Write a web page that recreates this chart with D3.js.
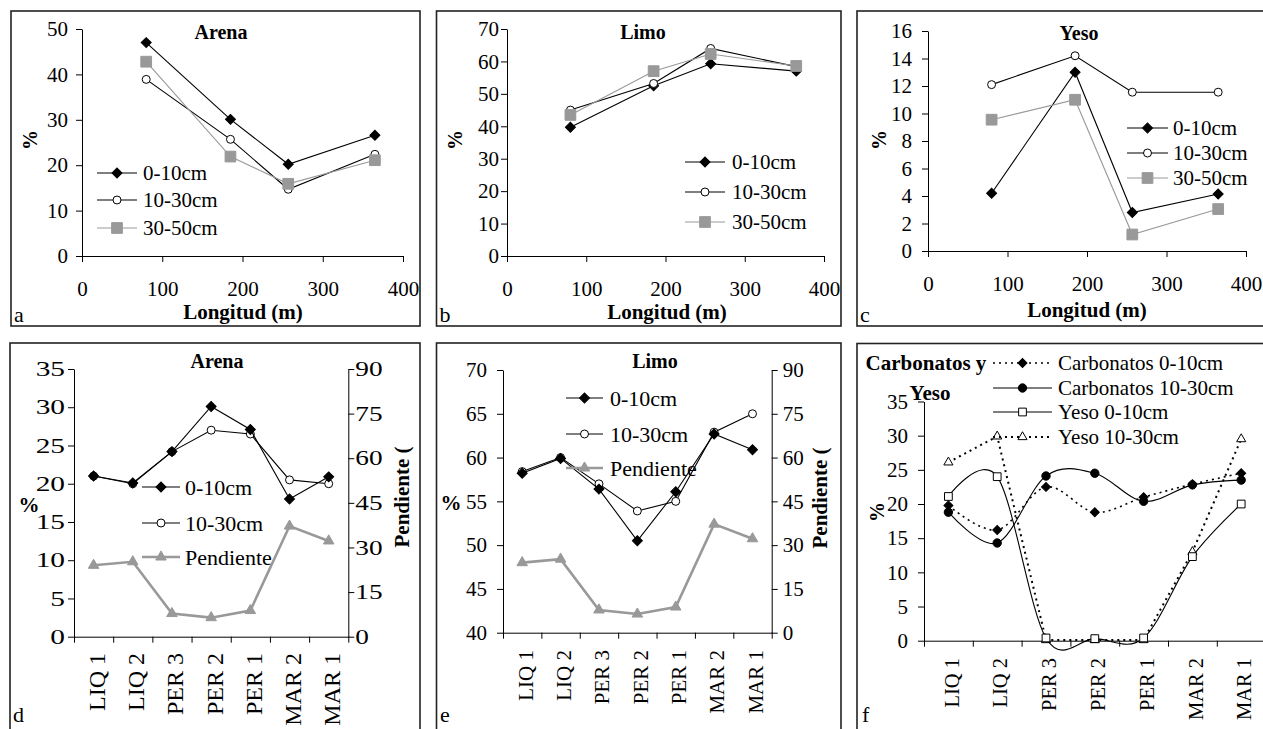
<!DOCTYPE html>
<html><head><meta charset="utf-8">
<script src="https://cdn.jsdelivr.net/npm/d3@7"></script>
<style>
body{margin:0;background:#fff}
svg{display:block}
text{font-family:"Liberation Serif","DejaVu Serif",serif;fill:#000}
</style></head><body>
<svg id="c" width="1263" height="729"></svg>
<script>
// ---------------- DATA ----------------
const longitud = [80, 185, 257, 365];
const longTicks = [0, 100, 200, 300, 400];
const arenaL_0_10 = [47.0, 30.1, 20.2, 26.6];
const arenaL_10_30 = [38.9, 25.7, 14.7, 22.4];
const arenaL_30_50 = [42.8, 21.9, 15.9, 21.1];
const limoL_0_10 = [39.7, 52.5, 59.3, 57.0];
const limoL_10_30 = [45.0, 53.2, 64.0, 58.4];
const limoL_30_50 = [43.5, 57.0, 62.3, 58.6];
const yesoL_0_10 = [4.2, 13.0, 2.8, 4.15];
const yesoL_10_30 = [12.1, 14.2, 11.55, 11.55];
const yesoL_30_50 = [9.55, 11.0, 1.2, 3.05];

const sites = ["LIQ 1", "LIQ 2", "PER 3", "PER 2", "PER 1", "MAR 2", "MAR 1"];
const arenaS_0_10 = [21.0, 20.1, 24.2, 30.1, 27.1, 18.0, 20.9];
const arenaS_10_30 = [21.0, 20.0, 24.2, 27.0, 26.5, 20.5, 20.0];
const limoS_0_10 = [58.2, 59.9, 56.4, 50.5, 56.1, 62.7, 60.9];
const limoS_10_30 = [58.4, 60.0, 57.0, 53.9, 55.0, 62.9, 65.0];
const pendiente = [24.0, 25.2, 7.8, 6.4, 8.8, 37.2, 32.2];
const carb_0_10 = [19.8, 16.2, 22.5, 18.8, 21.0, 22.9, 24.5];
const carb_10_30 = [18.8, 14.3, 24.1, 24.5, 20.4, 22.8, 23.5];
const yeso_0_10 = [21.1, 24.0, 0.4, 0.3, 0.4, 12.3, 20.0];
const yeso_10_30 = [26.1, 29.9, 0.1, 0.1, 0.1, 13.0, 29.5];
const slopeTicks = [0, 15, 30, 45, 60, 75, 90];

// ---------------- HELPERS ----------------
const svg = d3.select("#c");
const GRAY = "#999";
const FF = "'Liberation Serif', 'DejaVu Serif', serif";

function frame(x0, y0, x1, y1) {
  svg.append("rect").attr("x", x0).attr("y", y0).attr("width", x1 - x0).attr("height", y1 - y0)
    .attr("fill", "none").attr("stroke", "#222").attr("stroke-width", 1.6);
}
function text(str, x, y, o = {}) {
  const t = svg.append("text").attr("x", x).attr("y", y).text(str)
    .style("font-family", FF)
    .attr("font-size", o.size || 21).attr("text-anchor", o.anchor || "middle")
    .attr("font-weight", o.bold ? "bold" : "normal");
  if (o.rotate) t.attr("transform", `rotate(${o.rotate},${x},${y})`);
  if (o.dy) t.attr("dy", o.dy);
  return t;
}
function styleAxis(g, size, sx) {
  g.attr("font-size", size);
  g.selectAll("text").style("font-family", FF);
  if (sx) {
    g.selectAll("text").each(function () {
      const t = d3.select(this);
      t.attr("x", +t.attr("x") / sx).attr("transform", `scale(${sx},1)`);
    });
  }
  g.selectAll("line,path").attr("stroke", "#000");
  return g;
}
const symTypes = { diamond: d3.symbolSquare, circle: d3.symbolCircle, square: d3.symbolSquare, triangle: d3.symbolTriangle };
function marker(g, st, x, y) {
  g.append("path")
    .attr("d", d3.symbol().type(symTypes[st.m]).size(st.ms)())
    .attr("transform", `translate(${x},${y})` + (st.m === "diamond" ? " rotate(45)" : ""))
    .attr("fill", st.mf).attr("stroke", st.mstroke).attr("stroke-width", 1);
}
function series(xs, ys, st) {
  const pts = xs.map((x, i) => [x, ys[i]]);
  const line = d3.line().curve(st.curve || d3.curveLinear);
  svg.append("path").attr("d", line(pts)).attr("fill", "none")
    .attr("stroke", st.c).attr("stroke-width", st.w).attr("stroke-dasharray", st.dash || null);
  const g = svg.append("g");
  pts.forEach(p => marker(g, st, p[0], p[1]));
}
function legend(items, x0, x1, xt, ys, size) {
  items.forEach((it, i) => {
    const y = ys[i];
    svg.append("line").attr("x1", x0).attr("x2", x1).attr("y1", y).attr("y2", y)
      .attr("stroke", it.st.c).attr("stroke-width", it.st.w).attr("stroke-dasharray", it.st.dash || null);
    marker(svg, it.st, (x0 + x1) / 2, y);
    text(it.label, xt, y, { anchor: "start", size: size, dy: "0.35em" });
  });
}

const S0 = { c: "#000", w: 1.1, m: "diamond", ms: 50, mf: "#000", mstroke: "#000" };
const S1 = { c: "#000", w: 1.1, m: "circle", ms: 50, mf: "#fff", mstroke: "#000" };
const S2 = { c: GRAY, w: 1.1, m: "square", ms: 115, mf: GRAY, mstroke: GRAY };
const SP = { c: GRAY, w: 2.6, m: "triangle", ms: 48, mf: GRAY, mstroke: GRAY };

// ---------------- TOP ROW (Longitud) ----------------
function topPanel(cfg) {
  frame(...cfg.frame);
  const x = d3.scaleLinear([0, 400], [cfg.x0, cfg.x1]);
  const y = d3.scaleLinear([0, cfg.ymax], [cfg.yb, cfg.yt]);
  styleAxis(svg.append("g").attr("transform", `translate(${cfg.x0},0)`)
    .call(d3.axisLeft(y).tickValues(d3.range(0, cfg.ymax + 0.001, cfg.ystep)).tickSize(6).tickSizeOuter(0).tickPadding(cfg.ypad).tickFormat(d3.format("d"))), 21);
  styleAxis(svg.append("g").attr("transform", `translate(0,${cfg.yb})`)
    .call(d3.axisBottom(x).tickValues(longTicks).tickSize(6).tickSizeOuter(0).tickPadding(19).tickFormat(d3.format("d"))), 21);
  const xs = longitud.map(x);
  series(xs, cfg.s[0].map(y), S0);
  series(xs, cfg.s[1].map(y), S1);
  series(xs, cfg.s[2].map(y), S2);
  text(cfg.title, cfg.tx, cfg.ty, { bold: true, size: 20 });
  text("%", cfg.px, 140, { bold: true, size: 20, rotate: -90, dy: "0.35em" });
  text("Longitud (m)", cfg.lx, cfg.ly, { bold: true, size: 21 });
  text(cfg.letter, cfg.frame[0] + 3, 322, { anchor: "start", size: 22 });
  legend([{ label: "0-10cm", st: S0 }, { label: "10-30cm", st: S1 }, { label: "30-50cm", st: S2 }],
    cfg.lg[0], cfg.lg[1], cfg.lg[2], cfg.lg[3], 21);
}

topPanel({ frame: [11, 11, 420, 326], x0: 82, x1: 403, yb: 256, yt: 29, ymax: 50, ystep: 10, ypad: 8,
  s: [arenaL_0_10, arenaL_10_30, arenaL_30_50], title: "Arena", tx: 221, ty: 39, px: 30, lx: 243, ly: 319, letter: "a",
  lg: [97, 137, 143, [173, 200, 228]] });
topPanel({ frame: [436.5, 11, 841, 326], x0: 507, x1: 824, yb: 256, yt: 29, ymax: 70, ystep: 10, ypad: 2,
  s: [limoL_0_10, limoL_10_30, limoL_30_50], title: "Limo", tx: 643, ty: 39, px: 455, lx: 667, ly: 319, letter: "b",
  lg: [685, 725, 732, [162, 192, 222]] });
topPanel({ frame: [857, 11, 1275, 326], x0: 928, x1: 1246, yb: 251, yt: 31, ymax: 16, ystep: 2, ypad: 10,
  s: [yesoL_0_10, yesoL_10_30, yesoL_30_50], title: "Yeso", tx: 1079, ty: 40, px: 879, lx: 1087, ly: 317, letter: "c",
  lg: [1127, 1168, 1173, [128, 153, 178]] });

// ---------------- BOTTOM ROW (sites) ----------------
function catAxis(x0, x1, yb, labelTop, labSize) {
  const band = d3.scaleBand(sites, [x0, x1]);
  const edge = d3.scaleLinear([0, sites.length], [x0, x1]);
  styleAxis(svg.append("g").attr("transform", `translate(0,${yb})`)
    .call(d3.axisBottom(edge).tickValues(d3.range(0, sites.length + 1)).tickSize(6).tickSizeOuter(0).tickFormat("")), 21);
  sites.forEach(s => {
    const cx = band(s) + band.bandwidth() / 2;
    text(s, cx + 3, labelTop, { anchor: "end", size: labSize, rotate: -90, dy: "0.35em" });
  });
  return band;
}
function bottomPanel(cfg) {
  frame(...cfg.frame);
  const y = d3.scaleLinear([cfg.ymin, cfg.ymax], [cfg.yb, cfg.yt]);
  styleAxis(svg.append("g").attr("transform", `translate(${cfg.x0},0)`)
    .call(d3.axisLeft(y).tickValues(d3.range(cfg.ymin, cfg.ymax + 0.001, 5)).tickSize(6).tickSizeOuter(0).tickPadding(cfg.ypad).tickFormat(d3.format("d"))), 21, cfg.sx);
  const band = catAxis(cfg.x0, cfg.x1, cfg.yb, cfg.labTop, cfg.labSize);
  const xs = sites.map(s => band(s) + band.bandwidth() / 2);
  return { y, xs };
}

// Panel d: Arena
(function () {
  const cfg = { frame: [10, 343, 420, 740], x0: 74, x1: 348.3, yb: 636.7, yt: 369, ymin: 0, ymax: 35, ypad: 3, labTop: 653, labSize: 24, sx: 1.4 };
  const { y, xs } = bottomPanel(cfg);
  const yr = d3.scaleLinear([0, 90], [cfg.yb, cfg.yt]);
  styleAxis(svg.append("g").attr("transform", `translate(${cfg.x1},0)`)
    .call(d3.axisRight(yr).tickValues(slopeTicks).tickSize(6).tickSizeOuter(0).tickPadding(1)), 21, 1.3);
  series(xs, pendiente.map(yr), SP);
  series(xs, arenaS_10_30.map(y), S1);
  series(xs, arenaS_0_10.map(y), S0);
  text("Arena", 217, 368, { bold: true, size: 20 });
  text("%", 29, 505, { bold: true, size: 21, dy: "0.35em" });
  text("Pendiente (", 402, 497, { bold: true, size: 21, rotate: -90, dy: "0.35em" });
  text("d", 13, 722, { anchor: "start", size: 22 });
  legend([{ label: "0-10cm", st: S0 }, { label: "10-30cm", st: S1 }, { label: "Pendiente", st: SP }],
    142, 180, 185, [487, 523, 557], 22);
})();

// Panel e: Limo
(function () {
  const cfg = { frame: [436.5, 343, 841, 740], x0: 503, x1: 771.7, yb: 632.7, yt: 370, ymin: 40, ymax: 70, ypad: 10, labTop: 650, labSize: 21 };
  const { y, xs } = bottomPanel(cfg);
  const yr = d3.scaleLinear([0, 90], [cfg.yb, cfg.yt]);
  styleAxis(svg.append("g").attr("transform", `translate(${cfg.x1},0)`)
    .call(d3.axisRight(yr).tickValues(slopeTicks).tickSize(6).tickSizeOuter(0).tickPadding(5)), 21);
  series(xs, pendiente.map(yr), SP);
  series(xs, limoS_10_30.map(y), S1);
  series(xs, limoS_0_10.map(y), S0);
  text("Limo", 655, 368, { bold: true, size: 20 });
  text("%", 451, 503, { bold: true, size: 21, dy: "0.35em" });
  text("Pendiente (", 820, 498, { bold: true, size: 21, rotate: -90, dy: "0.35em" });
  text("e", 440, 722, { anchor: "start", size: 22 });
  legend([{ label: "0-10cm", st: S0 }, { label: "10-30cm", st: S1 }, { label: "Pendiente", st: SP }],
    566, 603, 610, [398, 434, 468], 22);
})();

// Panel f: Carbonatos y Yeso
(function () {
  const cfg = { frame: [857, 343.5, 1275, 740], x0: 924, x1: 1265.6, yb: 640.7, yt: 401.5, ymin: 0, ymax: 35, ypad: 10, labTop: 658, labSize: 20.5 };
  const { y, xs } = bottomPanel(cfg);
  const smooth = d3.curveCardinal.tension(0);
  const SC0 = { c: "#000", w: 1.6, dash: "2,4", m: "diamond", ms: 40, mf: "#000", mstroke: "#000", curve: smooth };
  const SC1 = { c: "#000", w: 1.1, m: "circle", ms: 55, mf: "#000", mstroke: "#000", curve: smooth };
  const SY0 = { c: "#000", w: 1.1, m: "square", ms: 60, mf: "#fff", mstroke: "#000", curve: smooth };
  const SY1 = { c: "#000", w: 2, dash: "2,4", m: "triangle", ms: 36, mf: "#fff", mstroke: "#000" };
  series(xs, yeso_10_30.map(y), SY1);
  series(xs, yeso_0_10.map(y), SY0);
  series(xs, carb_10_30.map(y), SC1);
  series(xs, carb_0_10.map(y), SC0);
  text("Carbonatos y", 926, 363, { bold: true, size: 21, dy: "0.35em" });
  text("Yeso", 930, 393, { bold: true, size: 21, dy: "0.35em" });
  text("%", 877, 512, { bold: true, size: 20, rotate: -90, dy: "0.35em" });
  text("f", 862, 722, { anchor: "start", size: 22 });
  legend([{ label: "Carbonatos 0-10cm", st: SC0 }, { label: "Carbonatos 10-30cm", st: SC1 },
    { label: "Yeso 0-10cm", st: SY0 }, { label: "Yeso 10-30cm", st: SY1 }],
    993, 1052, 1058, [363, 388, 412, 437], 21);
})();
</script>
</body></html>
